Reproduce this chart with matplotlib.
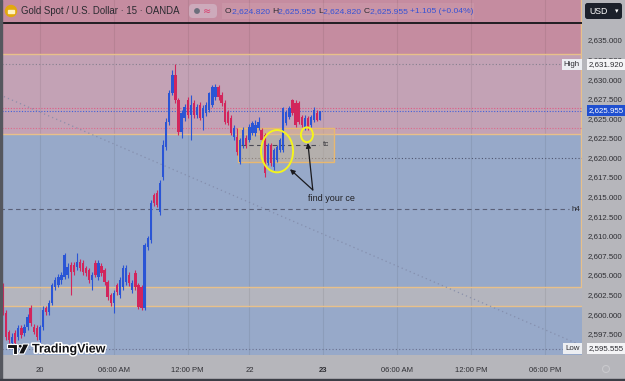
import matplotlib
matplotlib.use("Agg")
import matplotlib.pyplot as plt
import matplotlib.patheffects as pe
from matplotlib.patches import Ellipse, Rectangle, FancyBboxPatch, Polygon, Circle
import numpy as np

plt.rcParams['font.family'] = ['Liberation Sans', 'DejaVu Sans']

# XAU/USD OANDA, 15 min candles (19 Dec 21:00 -> 22 Dec 23:45)
opens = [2603.5, 2600.1, 2597.7, 2596.3, 2597.6, 2597.1, 2598.2, 2597.6, 2598.4, 2600.8,
         2598.4, 2598.2, 2596.7, 2598.4, 2600.8, 2600.3, 2601.4, 2603.5, 2603.7, 2604.35,
         2604.7, 2605.0, 2606.3, 2606.3, 2606.0, 2606.65, 2606.5, 2605.9, 2605.6, 2604.35,
         2606.5, 2604.7, 2606.1, 2605.6, 2604.1, 2602.4, 2601.4, 2603.7, 2602.4, 2603.5,
         2604.1, 2605.0, 2603.1, 2605.25, 2603.7, 2603.5, 2600.8, 2608.6, 2609.5, 2615.2,
         2615.5, 2613.0, 2617.5, 2621.3, 2624.5, 2628.2, 2630.5, 2627.3, 2623.25, 2625.0,
         2627.3, 2625.4, 2626.96, 2625.4, 2626.7, 2625.0, 2625.7, 2626.05, 2626.7, 2627.7,
         2629.0, 2628.0, 2626.96, 2625.8, 2625.0, 2622.6, 2622.6, 2619.4, 2621.6, 2622.5,
         2622.2, 2623.1, 2623.1, 2623.8, 2623.5, 2622.9, 2619.3, 2621.6, 2618.8, 2619.7,
         2621.0, 2621.0, 2624.4, 2625.2, 2627.3, 2627.0, 2627.0, 2625.2, 2623.9, 2625.0,
         2624.15, 2624.8, 2625.7, 2624.82]
highs = [2604.0, 2600.5, 2598.0, 2597.6, 2598.0, 2598.6, 2598.6, 2598.7, 2600.0, 2601.2,
         2598.7, 2598.6, 2598.6, 2601.0, 2601.0, 2601.8, 2604.0, 2604.7, 2605.1, 2605.4,
         2607.8, 2606.5, 2606.7, 2606.7, 2607.8, 2607.0, 2606.9, 2606.1, 2605.9, 2605.4,
         2606.9, 2606.9, 2606.5, 2605.9, 2604.35, 2602.7, 2603.1, 2604.0, 2604.7, 2606.3,
         2606.3, 2605.4, 2604.35, 2605.6, 2604.0, 2603.7, 2609.1, 2610.0, 2614.6, 2615.5,
         2615.85, 2617.1, 2622.2, 2625.0, 2628.6, 2631.2, 2631.92, 2627.6, 2626.05, 2626.8,
         2627.7, 2628.0, 2627.3, 2626.8, 2627.1, 2626.7, 2627.1, 2628.36, 2629.25, 2629.4,
         2629.25, 2628.4, 2627.3, 2626.1, 2625.4, 2624.15, 2623.8, 2622.5, 2623.9, 2622.9,
         2624.3, 2624.7, 2624.8, 2625.2, 2623.8, 2623.1, 2621.85, 2621.85, 2621.2, 2621.6,
         2622.5, 2626.5, 2626.05, 2626.6, 2627.5, 2627.3, 2627.2, 2625.4, 2625.4, 2625.3,
         2625.4, 2626.45, 2626.0, 2625.955]
lows = [2599.9, 2596.7, 2596.3, 2595.555, 2595.9, 2596.7, 2597.0, 2597.2, 2598.0, 2598.5,
        2597.4, 2596.7, 2596.3, 2598.0, 2599.9, 2599.9, 2601.2, 2603.1, 2603.5, 2603.9,
        2604.5, 2604.6, 2602.4, 2605.0, 2605.6, 2605.5, 2605.0, 2604.8, 2604.0, 2603.1,
        2604.7, 2604.3, 2604.9, 2603.7, 2601.8, 2601.0, 2600.1, 2602.4, 2602.0, 2603.1,
        2603.7, 2603.6, 2602.7, 2603.1, 2600.65, 2600.5, 2600.5, 2608.2, 2609.1, 2613.8,
        2613.7, 2612.65, 2617.1, 2621.0, 2624.15, 2628.0, 2627.0, 2622.9, 2622.5, 2624.7,
        2625.0, 2622.2, 2625.0, 2625.0, 2624.8, 2623.5, 2625.3, 2625.8, 2626.45, 2627.3,
        2627.3, 2626.6, 2624.3, 2624.15, 2622.9, 2622.2, 2620.3, 2619.2, 2621.2, 2621.2,
        2622.0, 2622.9, 2622.7, 2623.5, 2621.98, 2617.5, 2619.0, 2618.9, 2618.4, 2619.4,
        2620.7, 2620.7, 2624.15, 2624.9, 2625.4, 2623.9, 2624.3, 2623.9, 2623.5, 2623.5,
        2623.9, 2624.5, 2624.6, 2624.82]
closes = [2600.1, 2597.1, 2596.7, 2597.1, 2596.3, 2598.2, 2597.3, 2598.4, 2599.6, 2598.9,
          2597.7, 2597.1, 2598.4, 2600.5, 2600.3, 2601.4, 2603.7, 2604.35, 2604.7, 2605.0,
          2607.5, 2606.0, 2605.4, 2605.4, 2606.65, 2605.9, 2605.4, 2605.25, 2604.35, 2605.0,
          2605.0, 2606.5, 2605.25, 2604.1, 2602.2, 2601.4, 2602.7, 2602.8, 2604.35, 2605.9,
          2605.9, 2604.0, 2604.0, 2603.5, 2600.9, 2600.8, 2608.8, 2609.7, 2614.2, 2614.2,
          2613.9, 2616.7, 2621.6, 2624.5, 2628.2, 2630.5, 2627.3, 2623.25, 2625.7, 2626.45,
          2625.4, 2626.7, 2625.4, 2626.45, 2625.0, 2626.3, 2626.7, 2628.2, 2629.0, 2629.0,
          2627.7, 2626.96, 2624.5, 2624.4, 2623.1, 2623.8, 2620.7, 2622.2, 2623.5, 2621.6,
          2623.9, 2624.4, 2624.15, 2624.5, 2622.2, 2618.0, 2621.6, 2619.3, 2621.0, 2621.3,
          2622.2, 2626.3, 2625.8, 2626.3, 2625.7, 2624.15, 2624.5, 2624.15, 2625.0, 2623.8,
          2625.2, 2626.05, 2624.8, 2625.955]

time_ticks = [12, 36, 60, 80, 104, 128, 152, 176]
time_labels = ["20", "06:00 AM", "12:00 PM", "22", "23", "06:00 AM", "12:00 PM", "06:00 PM"]
price_ticks = [2597.5, 2600.0, 2602.5, 2605.0, 2607.5, 2610.0, 2612.5, 2615.0,
               2617.5, 2620.0, 2622.5, 2625.0, 2627.5, 2630.0, 2632.5, 2635.0]

# drawn levels / zones
top_line = 2637.17
supply_low = 2633.2
zone_split = 2623.05
demand_band = (2601.03, 2603.46)
tc_box = (76.3, 107.5, 2619.4, 2623.76)
tc_level = 2621.6
h4_level = 2613.4
cut_level = 2619.9
high_val, low_val, last_val = 2631.92, 2595.555, 2625.955

PINK, MAUVE, BLUE, BAND = '#c58ca0', '#c3a2b5', '#97a9c9', '#b4b5be'
ORANGE = '#e8c08a'
UP, DOWN = '#2a55d5', '#d2265c'

fig = plt.figure(figsize=(6.25, 3.81), dpi=100)
fig.patch.set_facecolor('#b6b6bb')
ax = fig.add_axes([2 / 625, 26 / 381, 580 / 625, 355 / 381])
ax.set_facecolor(BLUE)
ax.set_xlim(-0.3, 188.0)
ax.set_ylim(2594.77, 2640.11)
for s in ax.spines.values():
    s.set_visible(False)

# zones
ax.axhspan(zone_split, 2641, color=MAUVE, zorder=0.2, lw=0)
ax.axhspan(supply_low, 2641, color=PINK, zorder=0.3, lw=0)
ax.axhspan(*demand_band, color=BAND, zorder=0.3, lw=0)
for lvl in [supply_low, zone_split, *demand_band]:
    ax.axhline(lvl, color=ORANGE, lw=1.0, zorder=0.6)
ax.vlines(187.6, demand_band[1], 2641, color=ORANGE, lw=1.0, zorder=0.6)
ax.axhline(top_line, color='#141418', lw=1.3, zorder=3)

# grid
ax.set_xticks(time_ticks, time_labels)
ax.grid(axis='x', color='#000000', alpha=0.07, lw=0.8)
ax.set_axisbelow(True)

# dotted levels
ax.axhline(high_val, color='#85808f', ls=(0, (1, 2)), lw=0.8, zorder=1)
ax.axhline(last_val + 0.35, color='#de5a85', ls=(0, (1, 1.5)), lw=0.8, zorder=1)
ax.axhline(last_val, color='#4060dc', ls=(0, (1, 1.5)), lw=0.8, zorder=1)
ax.axhline(2623.7, color='#dc6a8c', ls=(0, (1, 1.5)), lw=0.8, zorder=1)
ax.axhline(low_val, color='#6a7090', ls=(0, (1, 2)), lw=0.8, zorder=1)
ax.plot([tc_box[0], 188], [cut_level, cut_level], color='#505670', ls=(0, (1, 2)), lw=0.8, zorder=1)
ax.plot([-1, 188.3], [2628.0, 2595.9], color='#8088a6', ls=(0, (1, 2.5)), lw=0.9, alpha=0.8, zorder=1)
ax.plot([-1, 183.8], [h4_level, h4_level], color='#5a6078', ls=(0, (4, 3)), lw=0.8, zorder=1)
ax.text(184.6, h4_level, "h4", fontsize=5.8, color='#2a2a30', va='center', ha='left')

# tc box
ax.add_patch(Rectangle((tc_box[0], tc_box[2]), tc_box[1] - tc_box[0], tc_box[3] - tc_box[2],
                       fc='#d8b78a', alpha=0.45, ec='none', zorder=2))
ax.add_patch(Rectangle((tc_box[0], tc_box[2]), tc_box[1] - tc_box[0], tc_box[3] - tc_box[2],
                       fill=False, ec='#e8b870', lw=1.0, zorder=2))
ax.plot([77.3, 102.6], [tc_level, tc_level], color='#4a4a55', ls=(0, (4, 3)), lw=0.8, zorder=2.5)
ax.text(104.0, tc_level, "tc", fontsize=5.8, color='#2a2a30', va='center', ha='left')

# candles
o = np.array(opens); c = np.array(closes)
idx = np.arange(len(o))
col = np.where(c >= o, UP, DOWN)
ax.vlines(idx, lows, highs, colors=col, lw=0.8, zorder=5)
ax.bar(idx, np.maximum(np.abs(c - o), 0.1), bottom=np.minimum(o, c), width=0.76,
       color=col, lw=0, zorder=6)

# annotations
ax.add_patch(Ellipse((89.0, 2620.8), 10.4, 5.4, fill=False, ec='#f4f41c', lw=1.4, zorder=7))
ax.add_patch(Ellipse((98.7, 2622.9), 3.9, 1.9, fill=False, ec='#f4f41c', lw=1.4, zorder=7))
for tgt in [(93.2, 2618.5), (99.0, 2621.85)]:
    ax.annotate('', xy=tgt, xytext=(100.6, 2615.85),
                arrowprops=dict(arrowstyle='-|>', color='#1a1a1e', lw=0.9, mutation_scale=7,
                                shrinkA=0, shrinkB=0), zorder=8)
ax.text(99.0, 2614.8, "find your ce", fontsize=6.5, color='#222226', va='center', ha='left')

# axes ticks
ax.yaxis.tick_right()
ax.set_yticks(price_ticks, [f"{v:,.3f}" for v in price_ticks])
ax.tick_params(axis='y', length=0, pad=4.3, labelsize=5.7, labelcolor='#2e2e33')
ax.tick_params(axis='x', length=0, pad=8.3, labelsize=5.5, labelcolor='#2e2e33')
ax.get_xticklabels()[4].set_fontweight('bold')

# price labels on the scale
tr = ax.get_yaxis_transform()
lbl = dict(fontsize=5.7, va='center', ha='left', zorder=10, clip_on=False)
for name, val in [("High", high_val), ("Low", low_val)]:
    ax.text(1.012, val, f"{val:,.3f}", color='#2e2e33', transform=tr,
            bbox=dict(boxstyle='square,pad=0.25', fc='#f4f4f6', ec='none'), **lbl)
    ax.text(0.9965, val, name, color='#2e2e33', transform=tr, fontsize=5.7, va='center',
            ha='right', zorder=10, clip_on=False,
            bbox=dict(boxstyle='square,pad=0.25', fc='#eceef2', ec='none'))
ax.text(1.012, last_val, f"{last_val:,.3f}", color='white', transform=tr,
        bbox=dict(boxstyle='square,pad=0.25', fc='#1f4fd0', ec='none'), **lbl)

# overlay in pixel space for the chrome
ov = fig.add_axes([0, 0, 1, 1], zorder=20)
ov.set_xlim(0, 625); ov.set_ylim(381, 0)
ov.axis('off'); ov.patch.set_alpha(0)
ov.add_patch(Rectangle((0, 0), 2, 381, color='#55575e'))
ov.add_patch(Rectangle((0, 379), 625, 2, color='#3c3e46'))

# header
ov.add_patch(Circle((11, 11), 5.5, color='#e2a80f'))
ov.add_patch(Rectangle((8, 10), 6, 3, color='#fff2c0'))
ov.text(21, 11.5, "Gold Spot / U.S. Dollar · 15 · OANDA", fontsize=6.9, color='#2a2a30', va='center')
ov.add_patch(FancyBboxPatch((189, 4), 28, 14, boxstyle='round,pad=0,rounding_size=4',
                            fc='#cdaabb', ec='none'))
ov.add_patch(Circle((197, 11), 2.2, color='#6c6e7c'))
ov.text(207, 11.5, "≈", fontsize=7, color='#d8386a', va='center', ha='center', family='DejaVu Sans')
ov.add_patch(Rectangle((222, 3), 252, 16, fc='white', alpha=0.07, ec='none'))
pieces = [("O", '#2a2a30'), ("2,624.820 ", '#3552d6'), ("H", '#2a2a30'), ("2,625.955 ", '#3552d6'),
          ("L", '#2a2a30'), ("2,624.820 ", '#3552d6'), ("C", '#2a2a30'), ("2,625.955 ", '#3552d6'),
          ("+1.105 (+0.04%)", '#3552d6')]
prev = ov.text(225, 11.5, pieces[0][0], fontsize=6.1, color=pieces[0][1], va='center')
for txt, clr in pieces[1:]:
    prev = ov.annotate(txt, xy=(1, 0.5), xycoords=prev, va='center', ha='left',
                       fontsize=6.1, color=clr)

# currency button
ov.add_patch(FancyBboxPatch((585, 3), 37, 16, boxstyle='round,pad=0,rounding_size=2.5',
                            fc='#1c212b', ec='none'))
ov.text(589, 11.5, "USD", fontsize=6.3, color='white', va='center')
ov.text(617, 11.5, "▾", fontsize=5, color='white', va='center', ha='center', family='DejaVu Sans')
ov.add_patch(Circle((606, 369), 3.5, fill=False, ec='#c8c8cc', lw=0.8))

# logo
halo = [pe.withStroke(linewidth=2.2, foreground='white')]
for poly in [[(7, 344), (17, 344), (17, 354), (12.5, 354), (12.5, 348), (7, 348)],
             [(23, 344), (29, 344), (24, 354), (18.5, 354)]]:
    ov.add_patch(Polygon(poly, closed=True, fc='#111114', ec='white', lw=0.8))
ov.add_patch(Circle((20.2, 346.2), 1.9, fc='#111114', ec='white', lw=0.6))
ov.text(32, 349.5, "TradingView", fontsize=9, fontweight='bold', color='#111114',
        va='center', path_effects=halo)

fig.savefig("out.png", dpi=100, facecolor=fig.get_facecolor())
